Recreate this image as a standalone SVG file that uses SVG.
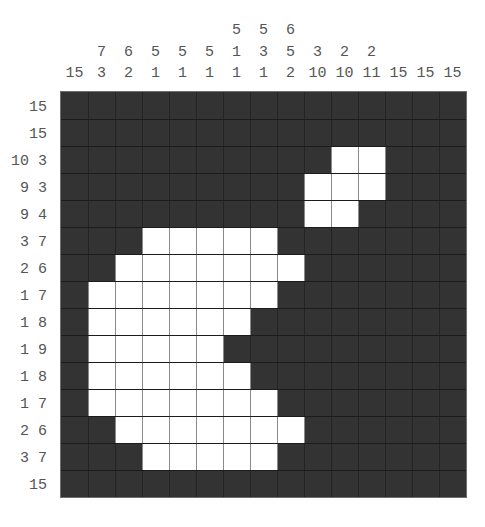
<svg xmlns="http://www.w3.org/2000/svg" width="485" height="527" viewBox="0 0 485 527">
<style>
.clue{font-family:"Liberation Mono","DejaVu Sans Mono",monospace;font-size:15px;fill:#555}
.col{text-anchor:middle}
.row{text-anchor:end}
.w{fill:#ffffff}
</style>
<rect width="485" height="527" fill="#ffffff"/>
<g id="column-clues" class="clue col">
<text x="236.5" y="34">5</text><text x="263.5" y="34">5</text><text x="290.5" y="34">6</text>
<text x="101.5" y="55.5">7</text><text x="128.5" y="55.5">6</text><text x="155.5" y="55.5">5</text><text x="182.5" y="55.5">5</text><text x="209.5" y="55.5">5</text><text x="236.5" y="55.5">1</text><text x="263.5" y="55.5">3</text><text x="290.5" y="55.5">5</text><text x="317.5" y="55.5">3</text><text x="344.5" y="55.5">2</text><text x="371.5" y="55.5">2</text>
<text x="74.5" y="76.5">15</text><text x="101.5" y="76.5">3</text><text x="128.5" y="76.5">2</text><text x="155.5" y="76.5">1</text><text x="182.5" y="76.5">1</text><text x="209.5" y="76.5">1</text><text x="236.5" y="76.5">1</text><text x="263.5" y="76.5">1</text><text x="290.5" y="76.5">2</text><text x="317.5" y="76.5">10</text><text x="344.5" y="76.5">10</text><text x="371.5" y="76.5">11</text><text x="398.5" y="76.5">15</text><text x="425.5" y="76.5">15</text><text x="452.5" y="76.5">15</text>
</g>
<g id="row-clues" class="clue row">
<text x="47" y="110.5">15</text>
<text x="47" y="137.5">15</text>
<text x="47" y="164.5">10 3</text>
<text x="47" y="191.5">9 3</text>
<text x="47" y="218.5">9 4</text>
<text x="47" y="245.5">3 7</text>
<text x="47" y="272.5">2 6</text>
<text x="47" y="299.5">1 7</text>
<text x="47" y="326.5">1 8</text>
<text x="47" y="353.5">1 9</text>
<text x="47" y="380.5">1 8</text>
<text x="47" y="407.5">1 7</text>
<text x="47" y="434.5">2 6</text>
<text x="47" y="461.5">3 7</text>
<text x="47" y="488.5">15</text>
</g>
<g id="grid">
<rect x="61" y="92" width="405" height="405" fill="#333333"/>
<g id="white-cells" class="w">
<rect x="331" y="146" width="54" height="27"/>
<rect x="304" y="173" width="81" height="27"/>
<rect x="304" y="200" width="54" height="27"/>
<rect x="142" y="227" width="135" height="27"/>
<rect x="115" y="254" width="189" height="27"/>
<rect x="88" y="281" width="189" height="27"/>
<rect x="88" y="308" width="162" height="27"/>
<rect x="88" y="335" width="135" height="27"/>
<rect x="88" y="362" width="162" height="27"/>
<rect x="88" y="389" width="189" height="27"/>
<rect x="115" y="416" width="189" height="27"/>
<rect x="142" y="443" width="135" height="27"/>
</g>
<path id="dark-vlines" fill="none" stroke="#242424" stroke-width="1" d="M88.5 92V497M115.5 92V497M142.5 92V497M169.5 92V497M196.5 92V497M223.5 92V497M250.5 92V497M277.5 92V497M304.5 92V497M331.5 92V497M358.5 92V497M385.5 92V497M412.5 92V497M439.5 92V497"/>
<path id="light-vlines" fill="none" stroke="#8a8a8a" stroke-width="1" d="M331.5 146V173M358.5 146V173M385.5 146V173
M304.5 173V200M331.5 173V200M358.5 173V200M385.5 173V200
M304.5 200V227M331.5 200V227M358.5 200V227
M142.5 227V254M169.5 227V254M196.5 227V254M223.5 227V254M250.5 227V254M277.5 227V254
M115.5 254V281M142.5 254V281M169.5 254V281M196.5 254V281M223.5 254V281M250.5 254V281M277.5 254V281M304.5 254V281
M88.5 281V308M115.5 281V308M142.5 281V308M169.5 281V308M196.5 281V308M223.5 281V308M250.5 281V308M277.5 281V308
M88.5 308V335M115.5 308V335M142.5 308V335M169.5 308V335M196.5 308V335M223.5 308V335M250.5 308V335
M88.5 335V362M115.5 335V362M142.5 335V362M169.5 335V362M196.5 335V362M223.5 335V362
M88.5 362V389M115.5 362V389M142.5 362V389M169.5 362V389M196.5 362V389M223.5 362V389M250.5 362V389
M88.5 389V416M115.5 389V416M142.5 389V416M169.5 389V416M196.5 389V416M223.5 389V416M250.5 389V416M277.5 389V416
M115.5 416V443M142.5 416V443M169.5 416V443M196.5 416V443M223.5 416V443M250.5 416V443M277.5 416V443M304.5 416V443
M142.5 443V470M169.5 443V470M196.5 443V470M223.5 443V470M250.5 443V470M277.5 443V470"/>
<path id="hlines" fill="none" stroke="#1c1c1c" stroke-width="1" d="M61 119.5H466M61 146.5H466M61 173.5H466M61 200.5H466M61 227.5H466M61 254.5H466M61 281.5H466M61 308.5H466M61 335.5H466M61 362.5H466M61 389.5H466M61 416.5H466M61 443.5H466M61 470.5H466"/>
<rect id="border" x="60.5" y="91.5" width="406" height="406" fill="none" stroke="#6e6e6e" stroke-width="1"/>
</g>
</svg>
